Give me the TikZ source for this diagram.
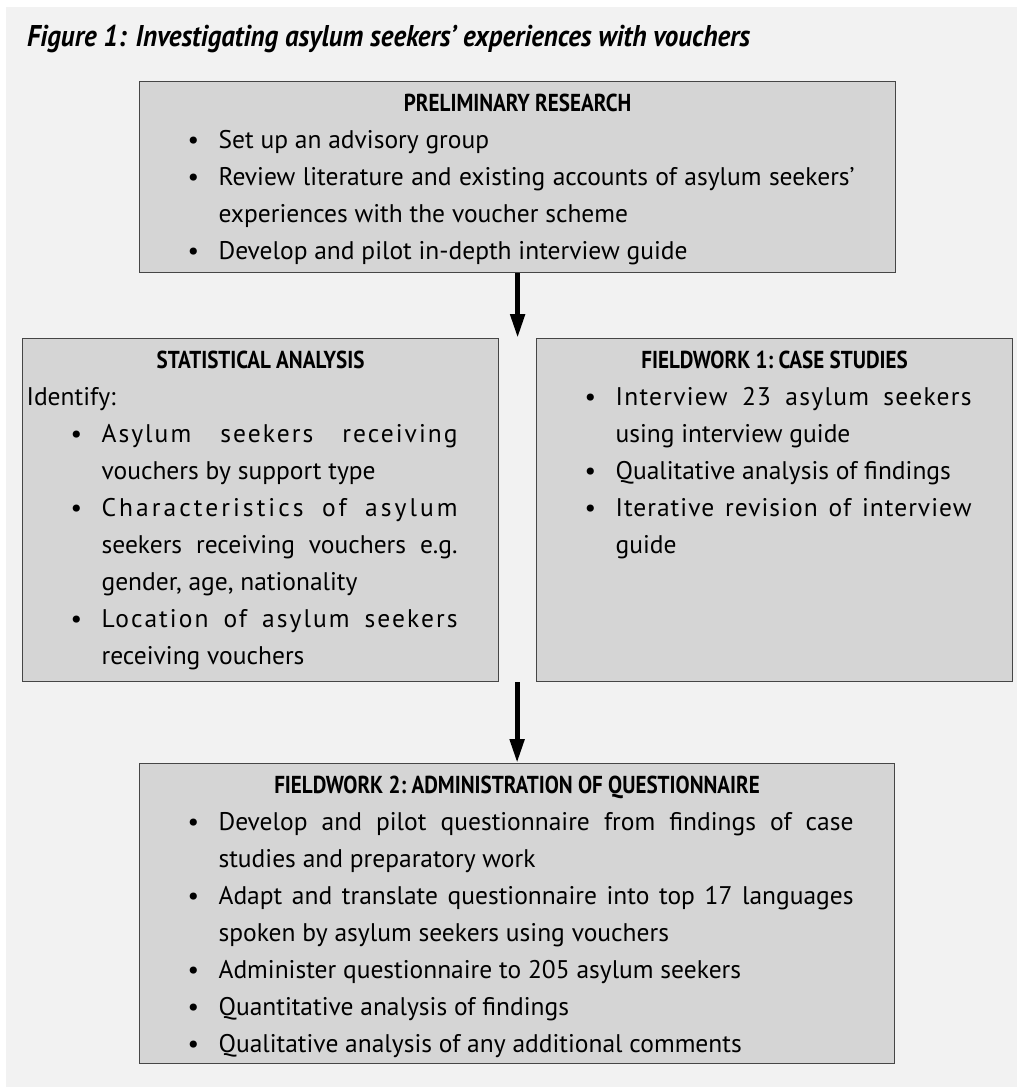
\documentclass[tikz,border=0pt]{standalone}
\usepackage{fontspec}
\usepackage{tikz}
\usetikzlibrary{arrows.meta,positioning,calc}
\setmainfont{PT Sans}
\newfontfamily\headfont[FakeStretch=0.86]{PT Sans}
\newfontfamily\titlefont[FakeStretch=0.9]{PT Sans}
\definecolor{pagegray}{RGB}{242,242,242}
\definecolor{boxgray}{RGB}{213,213,213}
\definecolor{edgegray}{RGB}{70,70,70}

% one bulleted entry of a box
\newcommand{\bitem}[1]{\par\leftskip=79pt\rightskip=41pt\hskip-31pt\makebox[31pt][l]{\textbullet}#1\par}
% centred heading of a box
\newcommand{\boxhead}[1]{\par{\centering\headfont\bfseries\fontsize{24.5}{37}\selectfont\rule{0pt}{30pt}#1\par}}
% letter spaced run, as in the justified lines
\newcommand{\spread}[2]{{\addfontfeatures{LetterSpace=#1}#2}}
% width, height, contents
\newcommand{\stagetext}[3]{\parbox[t][#2][t]{#1}{\fontsize{25.5}{37}\selectfont\frenchspacing\parindent=0pt #3}}

\tikzset{
  stage/.style={draw=edgegray, fill=boxgray, line width=1.2pt, inner sep=0pt, anchor=north west},
  flow/.style={line width=5pt, -{Triangle[length=24pt,width=14pt]}}
}

\begin{document}
\begin{tikzpicture}[x=1pt,y=-1pt]
    \useasboundingbox (0,0) rectangle (1017,1087);
    % page background
    \fill[pagegray] (6,7) rectangle (1017,1087);
    \node[anchor=base west, inner sep=0pt, font={\titlefont\bfseries\itshape\fontsize{30}{36}\selectfont}] (title) at (27,46)
        {Figure 1: Investigating asylum seekers’ experiences with vouchers};
    % the four stages
    \node[stage] (prelim) at (139,81) {\stagetext{756pt}{191pt}{%
        \boxhead{PRELIMINARY RESEARCH}
        \bitem{Set up an advisory group}
        \bitem{Review literature and existing accounts of asylum seekers’\linebreak experiences with the voucher scheme}
        \bitem{Develop and pilot in-depth interview guide}}};
    \node[stage] (stats) at (22,338) {\stagetext{476pt}{343pt}{%
        \boxhead{STATISTICAL ANALYSIS}
        {\leftskip=4pt Identify:\par}
        \bitem{\spread{8}{Asylum seekers receiving}\linebreak vouchers by support type}
        \bitem{\spread{12}{Characteristics of asylum}\linebreak seekers receiving vouchers e.g.\linebreak gender, age, nationality}
        \bitem{\spread{8}{Location of asylum seekers}\linebreak receiving vouchers}}};
    \node[stage] (field1) at (536,338) {\stagetext{476pt}{343pt}{%
        \boxhead{FIELDWORK 1: CASE STUDIES}
        \bitem{\spread{5}{Interview 23 asylum seekers}\linebreak using interview guide}
        \bitem{Qualitative analysis of findings}
        \bitem{\spread{4}{Iterative revision of interview}\linebreak guide}}};
    \node[stage] (field2) at (139,763) {\stagetext{755pt}{300pt}{%
        \boxhead{FIELDWORK 2: ADMINISTRATION OF QUESTIONNAIRE}
        \bitem{Develop and pilot questionnaire from findings of case\linebreak studies and preparatory work}
        \bitem{Adapt and translate questionnaire into top 17 languages\linebreak spoken by asylum seekers using vouchers}
        \bitem{Administer questionnaire to 205 asylum seekers}
        \bitem{Quantitative analysis of findings}
        \bitem{Qualitative analysis of any additional comments}}};
    % arrows between the stages
    \draw[flow] (prelim.south) -- (prelim.south |- stats.north);
    \draw[flow] (stats.south -| field2.north) -- (field2.north);
\end{tikzpicture}
\end{document}
